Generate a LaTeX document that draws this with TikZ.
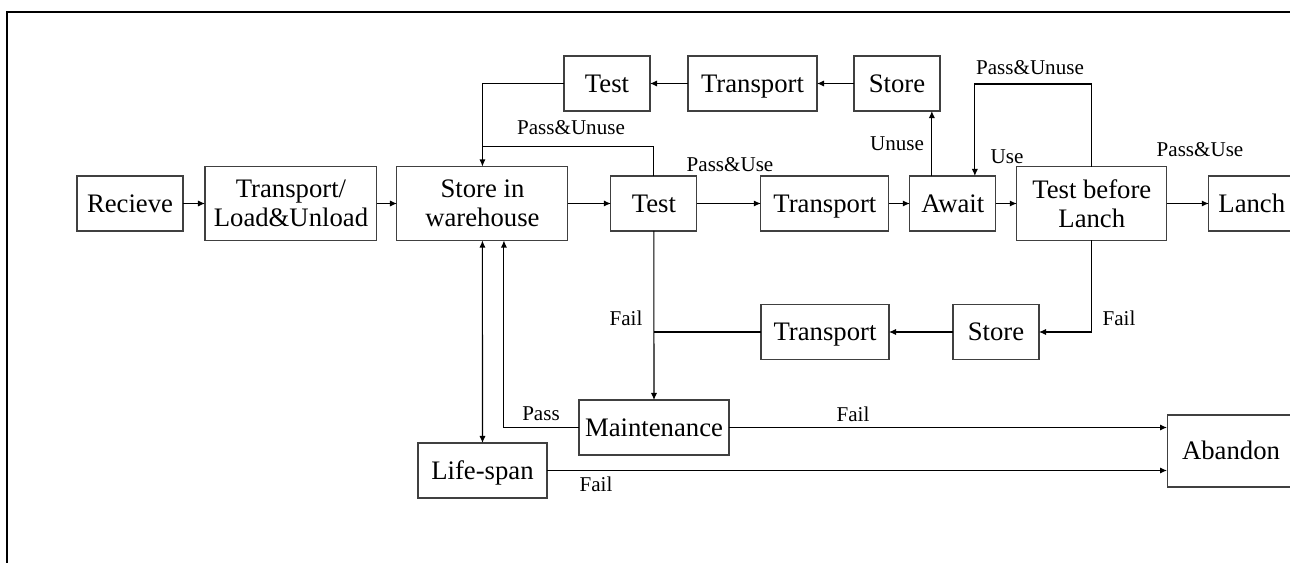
\documentclass[tikz,border=0pt]{standalone}
\usepackage{fontspec}
\setmainfont{Liberation Serif}
\usetikzlibrary{positioning,arrows.meta}

\begin{document}
\begin{tikzpicture}[x=0.02cm, y=-0.02cm,
    base/.style={draw=black!75, line width=0.6pt, inner sep=0pt, outer sep=0pt, align=center, font=\fontsize{15.2}{16.5}\selectfont},
    box/.style={base, minimum height=1.1cm, text height=11pt, text depth=1pt},
    tall/.style={base, minimum height=1.48cm},
    lbl/.style={inner sep=0pt, font=\fontsize{12}{14}\selectfont},
    arrow/.style={-{Latex[length=4pt,width=3.5pt]}, line width=0.6pt},
    dbl/.style={{Latex[length=4pt,width=3.5pt]}-{Latex[length=4pt,width=3.5pt]}, line width=0.6pt}
]
\useasboundingbox (0,0) rectangle (1290,563);
\draw[line width=1.1pt] (7,563) -- (7,12) -- (1290,12);

% main row
\node[box, minimum width=2.12cm] (A) at (130,203.5) {Recieve};
\node[tall, minimum width=3.44cm, right=0.44cm of A] (B) {Transport/\\Load\&Unload};
\node[tall, minimum width=3.42cm, right=0.40cm of B] (C) {Store in\\warehouse};
\node[box, minimum width=1.72cm, right=0.86cm of C] (D) {Test};
\node[box, minimum width=2.56cm, right=1.28cm of D] (E) {Transport};
\node[box, minimum width=1.72cm, right=0.42cm of E] (F) {Await};
\node[tall, minimum width=3.0cm, right=0.42cm of F] (G) {Test before\\Lanch};
\node[box, minimum width=1.72cm, right=0.84cm of G] (H) {Lanch};

% upper and lower loops
\node[box, minimum width=1.72cm] (I) at (607,83.5) {Test};
\node[box, minimum width=2.58cm] (J) at (752.5,83.5) {Transport};
\node[box, minimum width=1.72cm] (K) at (897,83.5) {Store};
\node[box, minimum width=1.72cm] (L) at (996,332) {Store};
\node[box, minimum width=2.56cm] (M) at (825,332) {Transport};
\node[box, minimum width=3.0cm] (N) at (654,427.5) {Maintenance};
\node[box, minimum width=2.58cm] (O) at (482.5,470.5) {Life-span};
\node[box, minimum width=2.56cm, minimum height=1.44cm] (P) at (1231,451) {Abandon};

% labels
\node[lbl] (la) at (730,165) {Pass\&Use};
\node[lbl] (lb) at (571,128) {Pass\&Unuse};
\node[lbl] (lc) at (897,144) {Unuse};
\node[lbl] (ld) at (1030,68) {Pass\&Unuse};
\node[lbl] (le) at (1007,157) {Use};
\node[lbl] (lf) at (1200,150) {Pass\&Use};
\node[lbl] (lg) at (1119,318) {Fail};
\node[lbl] (lh) at (626,318) {Fail};
\node[lbl] (li) at (541,414) {Pass};
\node[lbl] (lj) at (853,414) {Fail};
\node[lbl] (lk) at (596,484) {Fail};

\draw[arrow] (A) -- (B);
\draw[arrow] (B) -- (C);
\draw[arrow] (C) -- (D);
\draw[arrow] (D) -- (E);
\draw[arrow] (E) -- (F);
\draw[arrow] (F) -- (G);
\draw[arrow] (G) -- (H);

\draw[arrow] ([xshift=-0.42cm]F.north) -- ([xshift=-0.42cm]F.north |- K.south);
\draw[arrow] (K) -- (J);
\draw[arrow] (J) -- (I);
\draw[arrow] (I.west) -| (C.north);
\draw[line width=0.6pt] (D.north) |- ([yshift=0.4cm]C.north);
\draw[arrow] (G.north) -- ++(0,-82.5) -| ([xshift=0.44cm]F.north);

\draw[arrow] (G.south) |- (L.east);
\draw[arrow] (L) -- (M);
\draw[line width=0.6pt] (M.west) -- (M.west -| D.south);
\draw[arrow] (D) -- (N);
\draw[arrow] (N.west) -| ([xshift=0.43cm]C.south);
\draw[dbl] (C) -- (O);
\draw[arrow] (N.east) -- (N.east -| P.west);
\draw[arrow] (O.east) -- (O.east -| P.west);
\end{tikzpicture}
\end{document}
